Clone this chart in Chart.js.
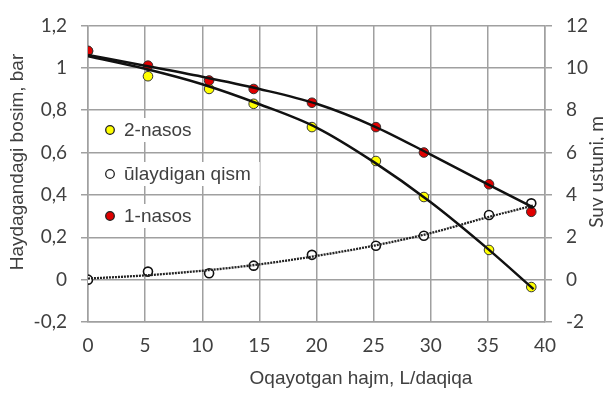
<!DOCTYPE html>
<html>
<head>
<meta charset="utf-8">
<script src="https://cdn.jsdelivr.net/npm/chart.js@4/dist/chart.umd.min.js"></script>
<style>
html,body{margin:0;padding:0;background:#fff;}
canvas{display:block;}
</style>
</head>
<body>
<canvas id="c" width="604" height="394"></canvas>
<script>
// ---- data ----
const flowX      = [0, 5.25, 10.6, 14.5, 19.6, 25.2, 29.4, 35.1, 38.8];   // L/daqiqa
const pump1      = [1.08, 1.01, 0.94, 0.90, 0.835, 0.72, 0.60, 0.45, 0.32]; // bar
const pump2      = [1.078, 0.96, 0.90, 0.83, 0.72, 0.56, 0.39, 0.14, -0.035]; // bar
const connection = [0.0, 0.38, 0.30, 0.66, 1.17, 1.60, 2.07, 3.05, 3.60];   // m

// trend curves
const trendX      = [0, 5, 10, 15, 20, 25, 30, 35, 39];
const trendPump1  = [1.06, 1.01, 0.958, 0.90, 0.83, 0.725, 0.59, 0.45, 0.34];
const trendPump2  = [1.055, 0.995, 0.922, 0.828, 0.718, 0.556, 0.365, 0.145, -0.045];
const trendConn   = [0.05, 0.20, 0.42, 0.72, 1.12, 1.60, 2.20, 2.95, 3.50];

const leftTickLabels  = ['-0,2', '0', '0,2', '0,4', '0,6', '0,8', '1', '1,2'];
const rightTickLabels = ['-2', '0', '2', '4', '6', '8', '10', '12'];
const xTickLabels     = ['0', '5', '10', '15', '20', '25', '30', '35', '40'];

const legendLabels = ['2-nasos', '\u016blaydigan qism', '1-nasos'];
const xTitle = 'Oqayotgan hajm, L/daqiqa';
const yTitle = 'Haydagandagi bosim, bar';
const y2Title = 'Suv ustuni, m';

const pts = (xs, ys) => xs.map((x, i) => ({x: x, y: ys[i]}));

const GRID = '#a0a0a0';
const TXT = '#404040';
const TICKFONT = {family: 'Lato', size: 19};

const overlay = {
  id: 'overlay',
  afterDraw(chart) {
    const ctx = chart.ctx;
    ctx.save();
    // legend
    const items = [
      {label: legendLabels[0], fill: '#ffff00', y: 130},
      {label: legendLabels[1], fill: '#ffffff', y: 174},
      {label: legendLabels[2], fill: '#e00000', y: 216}
    ];
    ctx.font = '19px "Liberation Sans", Arial, sans-serif';
    items.forEach(it => {
      const w = ctx.measureText(it.label).width;
      ctx.fillStyle = '#ffffff';
      ctx.fillRect(103, it.y - 12, w + 30, 24);
      ctx.beginPath();
      ctx.arc(110, it.y, 4.3, 0, Math.PI * 2);
      ctx.fillStyle = it.fill;
      ctx.fill();
      ctx.lineWidth = 1.3;
      ctx.strokeStyle = '#222';
      ctx.stroke();
      ctx.fillStyle = '#404040';
      ctx.textAlign = 'left';
      ctx.textBaseline = 'middle';
      ctx.fillText(it.label, 124, it.y + 1);
    });
    // axis titles
    ctx.fillStyle = '#404040';
    ctx.textAlign = 'center';
    ctx.textBaseline = 'middle';
    ctx.font = '19px "Liberation Sans", Arial, sans-serif';
    ctx.fillText(xTitle, 361, 379);
    ctx.save();
    ctx.translate(18, 162);
    ctx.rotate(-Math.PI / 2);
    ctx.fillText(yTitle, 0, 0);
    ctx.restore();
    ctx.save();
    ctx.font = '19px Lato, sans-serif';
    ctx.translate(597, 172);
    ctx.rotate(-Math.PI / 2);
    ctx.fillText(y2Title, 0, 0);
    ctx.restore();
    ctx.restore();
  }
};

new Chart(document.getElementById('c'), {
  type: 'scatter',
  data: {
    datasets: [
      {label: 'trend1', data: pts(trendX, trendPump1), showLine: true, pointRadius: 0,
       borderColor: '#111', borderWidth: 2.5, cubicInterpolationMode: 'monotone', yAxisID: 'y', order: 0},
      {label: 'trend2', data: pts(trendX, trendPump2), showLine: true, pointRadius: 0,
       borderColor: '#111', borderWidth: 2.5, cubicInterpolationMode: 'monotone', yAxisID: 'y', order: 0},
      {label: 'trend3', data: pts(trendX, trendConn), showLine: true, pointRadius: 0,
       borderColor: '#222', borderWidth: 2.3, borderDash: [2, 1], cubicInterpolationMode: 'monotone', yAxisID: 'y2', order: 0},
      {label: legendLabels[1], data: pts(flowX, connection), yAxisID: 'y2', order: 1,
       pointRadius: 4.5, pointBackgroundColor: '#ffffff', pointBorderColor: '#111', pointBorderWidth: 1.6},
      {label: legendLabels[2], data: pts(flowX, pump1), yAxisID: 'y', order: 2,
       pointRadius: 4.8, pointBackgroundColor: '#e00000', pointBorderColor: '#333', pointBorderWidth: 1},
      {label: legendLabels[0], data: pts(flowX, pump2), yAxisID: 'y', order: 3,
       pointRadius: 4.8, pointBackgroundColor: '#ffff00', pointBorderColor: '#333', pointBorderWidth: 1}
    ]
  },
  options: {
    responsive: false,
    animation: false,
    devicePixelRatio: 1,
    layout: {padding: {top: 22, left: 0, right: 0, bottom: 0}},
    plugins: {legend: {display: false}, tooltip: {enabled: false}},
    scales: {
      x: {
        type: 'linear', min: 0, max: 40,
        afterFit(s) { s.height = 72; },
        grid: {color: GRID, lineWidth: 1.5, drawTicks: false},
        border: {color: GRID, width: 1.5},
        ticks: {stepSize: 5, padding: 12, color: TXT, font: TICKFONT,
                callback: (v, i) => xTickLabels[i]}
      },
      y: {
        position: 'left', min: -0.2, max: 1.2,
        afterFit(s) { s.width = 88; },
        grid: {color: GRID, lineWidth: 1.5, tickLength: 7},
        border: {color: GRID, width: 1.5},
        ticks: {stepSize: 0.2, padding: 14, color: TXT, font: TICKFONT,
                callback: (v, i) => leftTickLabels[i]}
      },
      y2: {
        position: 'right', min: -2, max: 12,
        afterFit(s) { s.width = 59; },
        grid: {color: GRID, lineWidth: 1.5, tickLength: 7, drawOnChartArea: false},
        border: {color: GRID, width: 1.5},
        ticks: {stepSize: 2, padding: 14, color: TXT, font: TICKFONT,
                callback: (v, i) => rightTickLabels[i]}
      }
    }
  },
  plugins: [overlay]
});
</script>
</body>
</html>
